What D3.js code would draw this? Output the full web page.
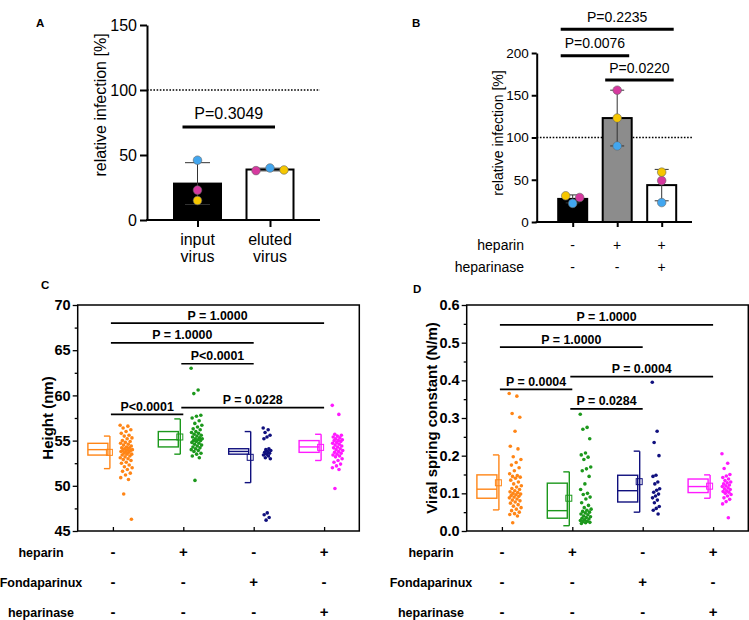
<!DOCTYPE html>
<html><head><meta charset="utf-8">
<script src="https://cdn.jsdelivr.net/npm/d3@7"></script>
<style>
body{margin:0;background:#fff}
svg{display:block}
text{font-family:"Liberation Sans",Arial,sans-serif}
</style>
</head><body>
<svg id="c" width="749" height="620"></svg>
<script>
// ---------------- DATA ----------------
// donors (dot colours in A and B)
const donorColors = ["#42a6ef", "#d6399f", "#f6c700"]; // blue, magenta, yellow
// Panel A
const aCategories = ["input virus", "eluted virus"];
const aValues = [[46, 23, 15], [40, 38, 38.5]];   // per category: [blue, magenta, yellow]
const aBarFill = ["#000000", "#ffffff"];
const aTicks = [0, 50, 100, 150];
const aSig = [{a: 0, b: 1, y: 71.5, label: "P=0.3049"}];
// Panel B
const bCategories = ["ctrl", "heparin", "heparin+heparinase"];
const bValues = [[22, 29, 31], [90, 156, 123], [23, 49, 59]]; // [blue, magenta, yellow]
const bBarFill = ["#000000", "#8c8c8c", "#ffffff"];
const bTicks = [0, 50, 100, 150, 200];
const bRows = ["heparin", "heparinase"];
const bCond = [["-", "+", "+"], ["-", "-", "+"]];
const bSig = [
  {a: 0, b: 2, y: 228, label: "P=0.2235"},
  {a: 0, b: 1, y: 196.8, label: "P=0.0076"},
  {a: 1, b: 2, y: 168, label: "P=0.0220"}
];
// Panels C, D shared
const groups = ["ctrl", "heparin", "Fondaparinux", "heparin+heparinase"];
const groupColors = ["#ff8516", "#1c981c", "#10107e", "#ff1aff"];
const rowLabels = ["heparin", "Fondaparinux", "heparinase"];
const cdCond = [["-", "+", "-", "+"], ["-", "-", "+", "-"], ["-", "-", "-", "+"]];
// Panel C (height, nm)
const cTicks = [45, 50, 55, 60, 65, 70];
const cOrange = [56.7,56.6,56.4,56.2,56.0,55.8,55.6,55.5,55.3,55.2,55.0,54.9,54.8,54.7,54.6,54.5,54.4,54.3,54.2,54.2,54.1,54.0,54.0,53.9,53.9,53.8,53.8,53.7,53.6,53.5,53.5,53.4,53.3,53.2,53.1,53.0,52.9,52.8,52.6,52.5,52.3,52.1,52.0,51.8,51.6,51.4,51.2,50.9,50.7,49.1,46.3];
const cGreen = [63.0,60.6,60.2,57.8,57.7,57.5,57.2,56.9,56.7,56.5,56.3,56.2,56.0,55.9,55.8,55.7,55.6,55.5,55.4,55.3,55.2,55.2,55.1,55.0,55.0,54.9,54.8,54.7,54.6,54.5,54.4,54.3,54.2,54.1,54.0,53.9,53.8,53.6,53.5,53.3,53.1,50.6];
const cNavy = [56.4,56.2,55.9,55.6,55.4,55.2,54.1,54.0,53.9,53.8,53.7,53.6,53.5,53.4,53.3,53.1,53.0,47.0,46.8,46.5,46.2];
const cMagenta = [58.9,57.9,55.7,55.6,55.5,55.4,55.3,55.2,55.1,55.0,55.0,54.9,54.8,54.7,54.6,54.5,54.4,54.3,54.2,54.1,54.0,53.9,53.8,53.7,53.6,53.5,53.4,53.3,53.2,53.0,52.8,52.6,52.4,52.2,52.0,51.8,49.7];
const cQ1 = [53.4, 54.3, 53.5, 53.7];
const cMed = [54.0, 55.1, 53.8, 54.3];
const cQ3 = [54.7, 56.0, 54.1, 55.0];
const cLo = [51.9, 53.5, 50.35, 52.8];
const cHi = [55.5, 57.4, 56.0, 55.7];
const cMean = [53.7, 55.4, 53.15, 54.25];
const cSig = [
  {a: 0, b: 3, y: 68.0, label: "P = 1.0000"},
  {a: 0, b: 2, y: 65.8, label: "P = 1.0000"},
  {a: 1, b: 2, y: 63.5, label: "P<0.0001"},
  {a: 0, b: 1, y: 57.9, label: "P<0.0001"},
  {a: 1, b: 3, y: 58.65, label: "P = 0.0228"}
];
// Panel D (viral spring constant, N/m)
const dTicks = [0.0, 0.1, 0.2, 0.3, 0.4, 0.5, 0.6];
const dOrange = [0.365,0.358,0.312,0.302,0.265,0.225,0.218,0.197,0.190,0.182,0.175,0.168,0.160,0.152,0.147,0.145,0.143,0.140,0.135,0.130,0.125,0.120,0.117,0.113,0.110,0.107,0.104,0.102,0.100,0.098,0.096,0.094,0.092,0.090,0.088,0.085,0.082,0.080,0.077,0.074,0.070,0.066,0.062,0.058,0.054,0.050,0.046,0.044,0.040,0.022];
const dGreen = [0.310,0.275,0.270,0.245,0.207,0.202,0.196,0.190,0.170,0.165,0.160,0.145,0.125,0.110,0.100,0.097,0.090,0.085,0.075,0.068,0.062,0.058,0.055,0.052,0.050,0.048,0.045,0.043,0.040,0.038,0.036,0.034,0.032,0.030,0.028,0.026,0.025,0.023,0.022,0.020];
const dNavy = [0.395,0.265,0.235,0.200,0.148,0.145,0.130,0.125,0.112,0.108,0.103,0.098,0.093,0.088,0.082,0.075,0.065,0.060,0.055,0.045];
const dMagenta = [0.205,0.180,0.166,0.150,0.146,0.142,0.138,0.134,0.130,0.128,0.125,0.122,0.120,0.118,0.115,0.112,0.110,0.107,0.105,0.103,0.100,0.097,0.093,0.088,0.084,0.078,0.072,0.035];
const dQ1 = [0.087, 0.034, 0.077, 0.102];
const dMed = [0.111, 0.054, 0.107, 0.118];
const dQ3 = [0.149, 0.127, 0.148, 0.138];
const dLo = [0.056, 0.014, 0.050, 0.087];
const dHi = [0.202, 0.157, 0.212, 0.149];
const dMean = [0.128, 0.087, 0.131, 0.119];
const dSig = [
  {a: 0, b: 3, y: 0.547, label: "P = 1.0000"},
  {a: 0, b: 2, y: 0.488, label: "P = 1.0000"},
  {a: 0, b: 1, y: 0.376, label: "P = 0.0004"},
  {a: 1, b: 3, y: 0.410, label: "P = 0.0004"},
  {a: 1, b: 2, y: 0.324, label: "P = 0.0284"}
];

// ---------------- DRAWING ----------------
const svg = d3.select("#c");
svg.append("rect").attr("width", 749).attr("height", 620).attr("fill", "#fff");

function letter(x, y, t) {
  svg.append("text").attr("x", x).attr("y", y).attr("font-size", 11.5)
    .attr("font-weight", "bold").text(t);
}

function styleAxis(g, fs, sw, bold) {
  g.attr("font-family", null).attr("font-size", null);
  g.selectAll("path.domain").attr("stroke", "#000").attr("stroke-width", sw);
  g.selectAll(".tick line").attr("stroke", "#000").attr("stroke-width", sw);
  g.selectAll(".tick text").attr("fill", "#000").attr("font-size", fs)
    .attr("font-weight", bold ? "bold" : "normal");
}

function swarmOffsets(vals, yScale, d, s) {
  const idx = vals.map((v, i) => i).sort((a, b) => yScale(vals[a]) - yScale(vals[b]));
  const rows = [];
  idx.forEach(i => {
    const last = rows[rows.length - 1];
    if (last && yScale(vals[i]) - yScale(vals[last[0]]) < d) last.push(i); else rows.push([i]);
  });
  const off = new Array(vals.length).fill(0);
  rows.forEach(r => {
    const n = r.length;
    r.forEach((i, k) => {
      if (n % 2) { const m = Math.ceil(k / 2); off[i] = k === 0 ? 0 : (k % 2 ? m * s : -m * s); }
      else { const m = Math.floor(k / 2) + 0.5; off[i] = k % 2 ? m * s : -m * s; }
    });
  });
  return off;
}

function barPanel(cfg) {
  const {cats, values, fills, ticks, sig, yDomain, yRange, xRange, axisX0, axisX1,
         barW, capW, fs, labelFs, ylabelX, ylabelY, sigFs, sigLift, sigPad} = cfg;
  const y = d3.scaleLinear().domain(yDomain).range(yRange);
  const x = d3.scalePoint().domain(cats).range(xRange);
  const g = svg.append("g");
  // dotted reference line at 100
  g.append("line").attr("x1", axisX0).attr("x2", axisX1).attr("y1", y(100)).attr("y2", y(100))
    .attr("stroke", "#000").attr("stroke-width", 1.4).attr("stroke-dasharray", "1.6,1.6");
  // bars
  cats.forEach((c, i) => {
    const vals = values[i];
    const m = d3.mean(vals), sd = d3.deviation(vals);
    g.append("rect").attr("x", x(c) - barW / 2).attr("y", y(m)).attr("width", barW)
      .attr("height", y(0) - y(m)).attr("fill", fills[i]).attr("stroke", "#000").attr("stroke-width", 2);
    const eb = g.append("g").attr("stroke", "#333").attr("stroke-width", 1);
    eb.append("line").attr("x1", x(c)).attr("x2", x(c)).attr("y1", y(m - sd)).attr("y2", y(m + sd));
    [m - sd, m + sd].forEach(v => eb.append("line").attr("x1", x(c) - capW / 2).attr("x2", x(c) + capW / 2)
      .attr("y1", y(v)).attr("y2", y(v)));
    const off = swarmOffsets(vals, y, 7, 14);
    vals.forEach((v, k) => {
      g.append("circle").attr("cx", x(c) + off[k]).attr("cy", y(v)).attr("r", 4.3)
        .attr("fill", donorColors[k]).attr("stroke", "#666").attr("stroke-width", 0.6);
    });
  });
  // axes
  const ya = g.append("g").attr("transform", `translate(${axisX0},0)`)
    .call(d3.axisLeft(y).tickValues(ticks).tickSize(cfg.tickLen).tickSizeOuter(0).tickPadding(3));
  styleAxis(ya, fs, 2, false);
  const xa = g.append("g").attr("transform", `translate(0,${y(0)})`)
    .call(d3.axisBottom(x).tickSize(cfg.tickLen).tickFormat(""));
  xa.select("path.domain").remove();
  styleAxis(xa, fs, 2, false);
  g.append("line").attr("x1", axisX0 - 1).attr("x2", axisX1).attr("y1", y(0)).attr("y2", y(0))
    .attr("stroke", "#000").attr("stroke-width", 2);
  g.append("text").attr("transform", `translate(${ylabelX},${ylabelY}) rotate(-90)`)
    .attr("text-anchor", "middle").attr("dy", "0.35em").attr("font-size", labelFs)
    .text("relative infection [%]");
  // significance
  sig.forEach(s => {
    const x1 = x(cats[s.a]) + sigPad[0], x2 = x(cats[s.b]) + sigPad[1];
    g.append("line").attr("x1", x1).attr("x2", x2).attr("y1", y(s.y)).attr("y2", y(s.y))
      .attr("stroke", "#000").attr("stroke-width", 3);
    g.append("text").attr("x", (x1 + x2) / 2).attr("y", y(s.y) - sigLift).attr("text-anchor", "middle")
      .attr("font-size", sigFs).text(s.label);
  });
  return {x, y, g};
}

// Panel A
letter(36, 27, "A");
const A = barPanel({cats: aCategories, values: aValues, fills: aBarFill, ticks: aTicks, sig: aSig,
  yDomain: [0, 150], yRange: [220, 25], xRange: [197.5, 270], axisX0: 147, axisX1: 320,
  barW: 47, capW: 25, fs: 16, labelFs: 16, ylabelX: 100, ylabelY: 105, sigFs: 16, sigLift: 8,
  sigPad: [-15, 5], tickLen: 7});
aCategories.forEach(c => {
  const [w1, w2] = c.split(" ");
  A.g.append("text").attr("x", A.x(c)).attr("y", 245).attr("text-anchor", "middle").attr("font-size", 16).text(w1);
  A.g.append("text").attr("x", A.x(c)).attr("y", 262).attr("text-anchor", "middle").attr("font-size", 16).text(w2);
});

// Panel B
letter(412, 27, "B");
const B = barPanel({cats: bCategories, values: bValues, fills: bBarFill, ticks: bTicks, sig: bSig,
  yDomain: [0, 200], yRange: [222, 53], xRange: [572.7, 661.7], axisX0: 536.7, axisX1: 692,
  barW: 29, capW: 14, fs: 13.5, labelFs: 14, ylabelX: 498, ylabelY: 133, sigFs: 14, sigLift: 7.5,
  sigPad: [-12, 12], tickLen: 5});
bRows.forEach((r, ri) => {
  const yy = 250 + ri * 22;
  B.g.append("text").attr("x", 524).attr("y", yy).attr("text-anchor", "end").attr("font-size", 14).text(r);
  bCategories.forEach((c, ci) => {
    B.g.append("text").attr("x", B.x(c)).attr("y", yy).attr("text-anchor", "middle")
      .attr("font-size", 14).text(bCond[ri][ci]);
  });
});

// Panels C and D
function distPanel(cfg) {
  const {x0, x1, yDomain, ticks, minor, series, q1, med, q3, lo, hi, mean, sig, ylabel, ylabelX,
         tickFmt, rowX, sigX0} = cfg;
  const top = 305, bottom = 531;
  const y = d3.scaleLinear().domain(yDomain).range([bottom, top]);
  const x = d3.scalePoint().domain(groups).range([x0, x1]).padding(0.5);
  const g = svg.append("g");
  // y axis minor + major
  const ym = g.append("g").attr("transform", `translate(${x0},0)`)
    .call(d3.axisLeft(y).tickValues(minor).tickSize(3).tickFormat(""));
  ym.select("path.domain").remove();
  styleAxis(ym, 14, 1.3, true);
  const ya = g.append("g").attr("transform", `translate(${x0},0)`)
    .call(d3.axisLeft(y).tickValues(ticks).tickSize(5).tickSizeOuter(0).tickPadding(2).tickFormat(tickFmt));
  ya.select("path.domain").remove();
  styleAxis(ya, 14.5, 1.3, true);
  const xa = g.append("g").attr("transform", `translate(0,${bottom})`)
    .call(d3.axisBottom(x).tickSize(-4).tickFormat(""));
  xa.select("path.domain").remove();
  styleAxis(xa, 14, 1.3, true);
  g.append("rect").attr("x", x0).attr("y", top).attr("width", x1 - x0).attr("height", bottom - top)
    .attr("fill", "none").attr("stroke", "#000").attr("stroke-width", 1.5);
  g.append("text").attr("transform", `translate(${ylabelX},418) rotate(-90)`)
    .attr("text-anchor", "middle").attr("dy", "0.35em").attr("font-size", 15).attr("font-weight", "bold")
    .text(ylabel);
  // boxes
  groups.forEach((gr, i) => {
    const cx = x(gr), col = groupColors[i];
    const bg = g.append("g").attr("stroke", col).attr("stroke-width", 1.4).attr("fill", "none");
    bg.append("rect").attr("x", cx - 25).attr("y", y(q3[i])).attr("width", 20).attr("height", y(q1[i]) - y(q3[i]));
    bg.append("line").attr("x1", cx - 25).attr("x2", cx - 5).attr("y1", y(med[i])).attr("y2", y(med[i]));
    bg.append("line").attr("x1", cx - 3).attr("x2", cx - 3).attr("y1", y(lo[i])).attr("y2", y(hi[i]));
    [lo[i], hi[i]].forEach(v => bg.append("line").attr("x1", cx - 9).attr("x2", cx - 3)
      .attr("y1", y(v)).attr("y2", y(v)));
    bg.append("rect").attr("x", cx - 6.5).attr("y", y(mean[i]) - 3).attr("width", 6).attr("height", 6)
      .attr("stroke-width", 1);
    const vals = series[i], n = vals.length;
    const w = 13 * Math.min(1, Math.sqrt(n / 55));
    vals.forEach((v, k) => {
      const f = (k * 0.618034) % 1;
      g.append("circle").attr("cx", cx + 13.5 + (f - 0.5) * w).attr("cy", y(v)).attr("r", 1.8)
        .attr("fill", col);
    });
  });
  // significance
  sig.forEach(s => {
    const xa1 = x(groups[s.a]) + sigX0, xa2 = x(groups[s.b]);
    g.append("line").attr("x1", xa1).attr("x2", xa2).attr("y1", y(s.y)).attr("y2", y(s.y))
      .attr("stroke", "#000").attr("stroke-width", 1.7);
    g.append("text").attr("x", (xa1 + xa2) / 2).attr("y", y(s.y) - 3.5).attr("text-anchor", "middle")
      .attr("font-size", 12.4).attr("font-weight", "bold").text(s.label);
  });
  // condition rows
  rowLabels.forEach((r, ri) => {
    const yy = 557 + ri * 30;
    g.append("text").attr("x", rowX).attr("y", yy).attr("text-anchor", "middle").attr("font-size", 12.5)
      .attr("font-weight", "bold").text(r);
    groups.forEach((gr, ci) => {
      g.append("text").attr("x", x(gr)).attr("y", yy).attr("text-anchor", "middle")
        .attr("font-size", 15).attr("font-weight", "bold").text(cdCond[ri][ci]);
    });
  });
}

letter(41, 289, "C");
distPanel({x0: 77.7, x1: 359.3, yDomain: [45, 70], ticks: cTicks, minor: [47.5, 52.5, 57.5, 62.5, 67.5],
  series: [cOrange, cGreen, cNavy, cMagenta], q1: cQ1, med: cMed, q3: cQ3, lo: cLo, hi: cHi, mean: cMean,
  sig: cSig, ylabel: "Height (nm)", ylabelX: 48, tickFmt: d3.format("d"), rowX: 41, sigX0: -2});

letter(413, 293, "D");
distPanel({x0: 466.7, x1: 748.3, yDomain: [0, 0.6], ticks: dTicks, minor: [0.05, 0.15, 0.25, 0.35, 0.45, 0.55],
  series: [dOrange, dGreen, dNavy, dMagenta], q1: dQ1, med: dMed, q3: dQ3, lo: dLo, hi: dHi, mean: dMean,
  sig: dSig, ylabel: "Viral spring constant (N/m)", ylabelX: 432, tickFmt: d3.format(".1f"), rowX: 431, sigX0: -2});
</script>
</body></html>
